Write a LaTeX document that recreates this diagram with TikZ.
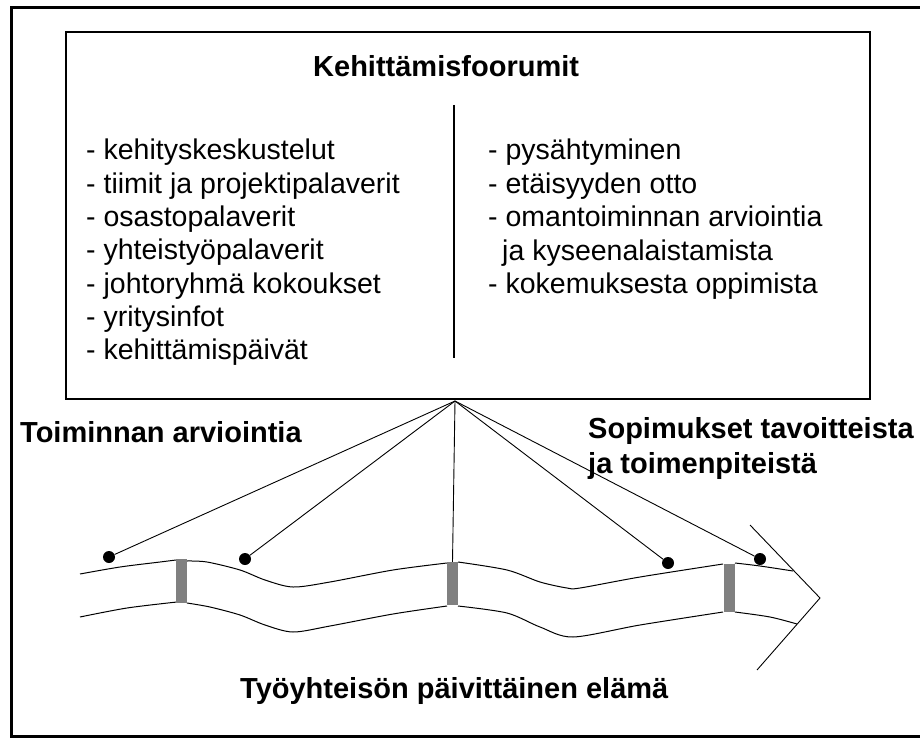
\documentclass[tikz,border=0pt]{standalone}
\usepackage{fontspec}
\setmainfont{Liberation Sans}
\begin{document}
\begin{tikzpicture}[x=1pt,y=-1pt,
  frame/.style={line width=2.8pt},
  forum/.style={draw, line width=1.3pt},
  item/.style={anchor=base west, inner sep=0pt, font=\fontsize{28.5}{33}\selectfont},
  heading/.style={anchor=base west, inner sep=0pt, font=\fontsize{29}{35}\selectfont\bfseries},
  wave/.style={line width=1pt},
  link/.style={line width=0.9pt},
  dot/.style={circle, fill=black, inner sep=0pt, minimum size=12pt},
  bar/.style={fill=gray, inner sep=0pt, minimum width=11pt}]
\useasboundingbox (0,0) rectangle (920,738);

% outer frame (its right side runs off the page)
\draw[frame] (921,7.5) -- (11.5,7.5) -- (11.5,736.5) -- (921,736.5);

% forum box with its two columns
\draw[forum] (66,32) rectangle (870,399);
\draw[line width=1.2pt] (454,105) -- (454,358);
\node[heading] (title) at (313,77) {Kehittämisfoorumit};

\foreach \t [count=\i] in {- kehityskeskustelut, - tiimit ja projektipalaverit,
    - osastopalaverit, - yhteistyöpalaverit, - johtoryhmä kokoukset,
    - yritysinfot, - kehittämispäivät}
  \node[item] (left\i) at (86,{160+33.3*(\i-1)}) {\t};

\node[item] (right1) at (488,160) {- pysähtyminen};
\node[item] (right2) at (488,193.3) {- etäisyyden otto};
\node[item] (right3) at (488,226.6) {- omantoiminnan arviointia};
\node[item] (right4) at (502,260) {ja kyseenalaistamista};
\node[item] (right5) at (488,293.3) {- kokemuksesta oppimista};

% side labels
\node[heading] (evaluate) at (20,442) {Toiminnan arviointia};
\node[heading] (agree1) at (588,438) {Sopimukset tavoitteista};
\node[heading] (agree2) at (588,473) {ja toimenpiteistä};
\node[heading] (daily) at (240,698) {Työyhteisön päivittäinen elämä};

% the stream of daily work
\draw[wave] plot[smooth, tension=0.5] coordinates {(80,574) (120,567) (160,562) (176,560)};
\draw[wave] plot[smooth, tension=0.5] coordinates {(80,617) (127,608) (177,602)};
\draw[wave] plot[smooth, tension=0.5] coordinates {(187,561) (207,562) (240,570) (265,580) (293,587) (330,582) (393,570) (447,563)};
\draw[wave] plot[smooth, tension=0.5] coordinates {(187,603) (210,607) (240,615) (265,625) (293,632) (330,626) (393,614) (447,606)};
\draw[wave] plot[smooth, tension=0.5] coordinates {(458,562) (507,570) (540,582) (567,588) (580,588) (640,577) (723,564)};
\draw[wave] plot[smooth, tension=0.5] coordinates {(458,606) (507,613) (540,627) (573,637) (640,625) (723,612)};
\draw[wave] plot[smooth, tension=0.5] coordinates {(735,563) (760,566) (793,571)};
\draw[wave] plot[smooth, tension=0.5] coordinates {(735,612) (770,617) (797,624)};

% arrow head of the stream
\coordinate (headtop) at (750,525);
\coordinate (headtip) at (820,598);
\coordinate (headbot) at (757,670);
\draw[link] (headtop) -- (headtip) -- (headbot);

% forum breaks across the stream
\node[bar, minimum height=44pt] (bar1) at (181.5,581) {};
\node[bar, minimum height=43pt] (bar2) at (452.5,583.5) {};
\node[bar, minimum height=48pt] (bar3) at (729,588) {};

% contact points
\node[dot] (d1) at (109,557) {};
\node[dot] (d2) at (245,559) {};
\node[dot] (d3) at (668,563) {};
\node[dot] (d4) at (760,559) {};

\coordinate (apex) at (455,401);
\draw[link] (apex) -- (d1);
\draw[link] (apex) -- (d2);
\draw[link] (apex) -- (bar2.north);
\draw[link] (apex) -- (d3);
\draw[link] (apex) -- (d4);
\end{tikzpicture}
\end{document}
